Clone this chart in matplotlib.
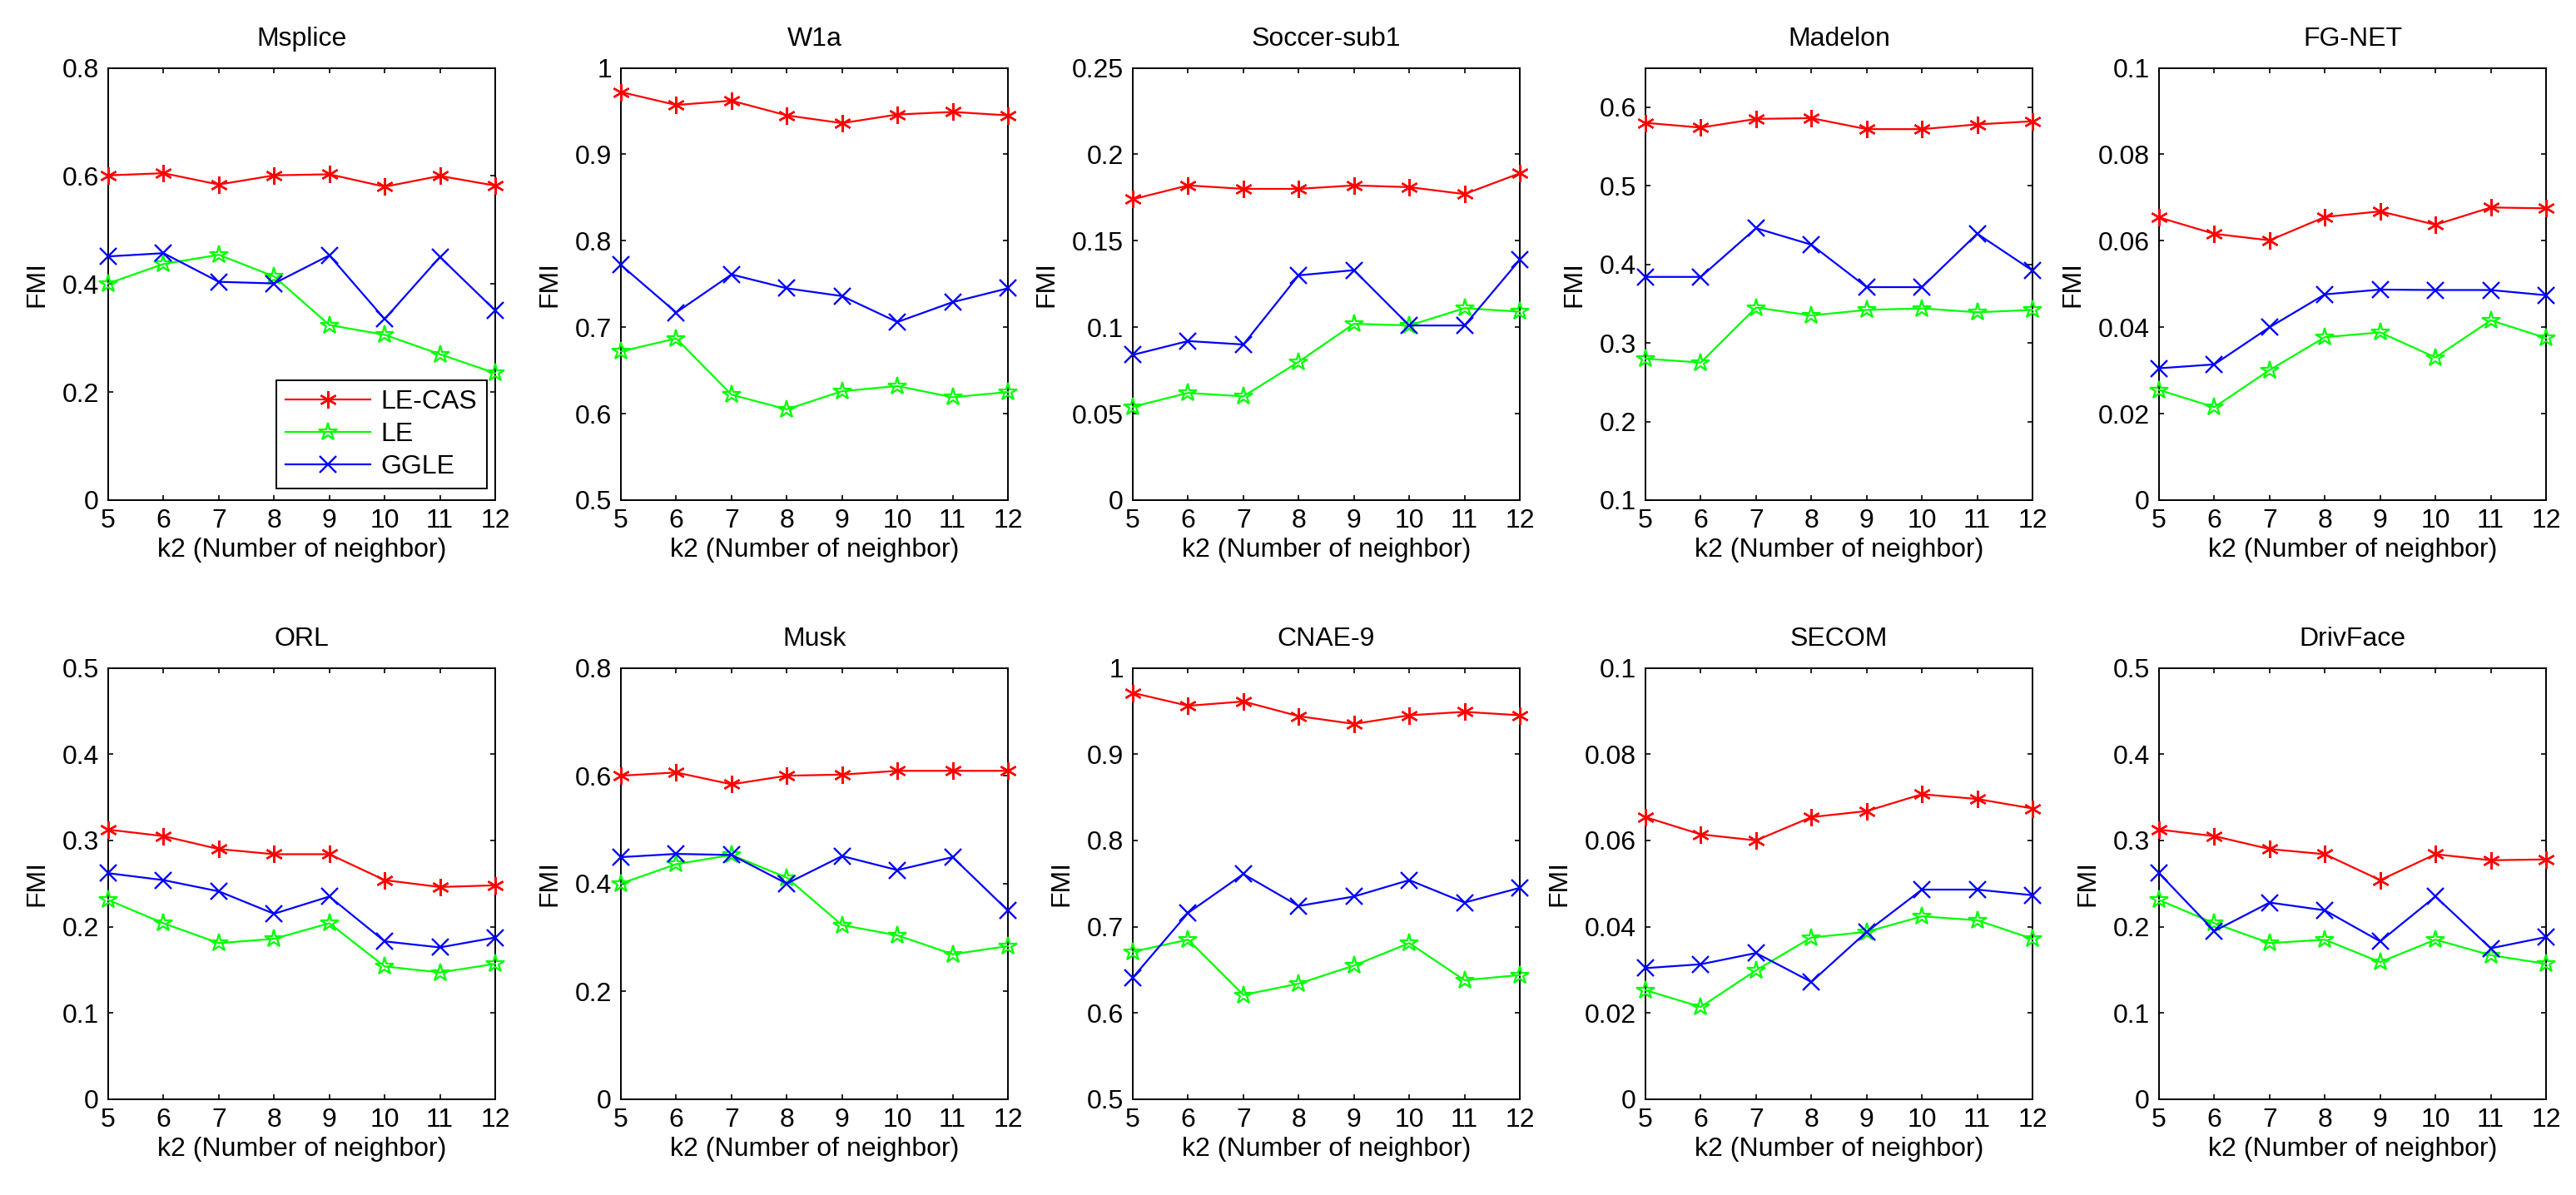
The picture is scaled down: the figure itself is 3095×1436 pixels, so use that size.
import matplotlib
matplotlib.use("Agg")
import matplotlib.pyplot as plt
from matplotlib.ticker import FuncFormatter

plt.rcParams['font.family'] = ['Liberation Sans', 'DejaVu Sans']

k2 = [5, 6, 7, 8, 9, 10, 11, 12]
series_names = ["LE-CAS", "LE", "GGLE"]
titles = ["Msplice", "W1a", "Soccer-sub1", "Madelon", "FG-NET",
          "ORL", "Musk", "CNAE-9", "SECOM", "DrivFace"]

# LE-CAS values per dataset
lecas_msplice = [0.601, 0.605, 0.584, 0.601, 0.603, 0.580, 0.600, 0.582]
lecas_w1a = [0.972, 0.957, 0.962, 0.945, 0.936, 0.946, 0.949, 0.945]
lecas_soccer = [0.174, 0.182, 0.180, 0.180, 0.182, 0.181, 0.177, 0.189]
lecas_madelon = [0.580, 0.574, 0.585, 0.586, 0.572, 0.572, 0.578, 0.582]
lecas_fgnet = [0.0654, 0.0616, 0.0601, 0.0655, 0.0668, 0.0637, 0.0677, 0.0675]
lecas_orl = [0.3125, 0.305, 0.290, 0.284, 0.284, 0.254, 0.246, 0.248]
lecas_musk = [0.600, 0.606, 0.584, 0.600, 0.602, 0.609, 0.609, 0.609]
lecas_cnae = [0.971, 0.956, 0.961, 0.944, 0.935, 0.945, 0.949, 0.945]
lecas_secom = [0.0654, 0.0614, 0.0600, 0.0654, 0.0668, 0.0707, 0.0696, 0.0674]
lecas_drivface = [0.3125, 0.305, 0.290, 0.284, 0.254, 0.284, 0.277, 0.278]

# LE values per dataset
le_msplice = [0.401, 0.437, 0.454, 0.414, 0.324, 0.306, 0.270, 0.235]
le_w1a = [0.672, 0.687, 0.622, 0.605, 0.626, 0.632, 0.619, 0.625]
le_soccer = [0.054, 0.062, 0.060, 0.080, 0.102, 0.101, 0.111, 0.109]
le_madelon = [0.280, 0.275, 0.345, 0.335, 0.342, 0.344, 0.339, 0.342]
le_fgnet = [0.0255, 0.0215, 0.0301, 0.0377, 0.0388, 0.0330, 0.0416, 0.0375]
le_orl = [0.231, 0.204, 0.181, 0.186, 0.204, 0.154, 0.147, 0.157]
le_musk = [0.400, 0.436, 0.453, 0.411, 0.323, 0.304, 0.269, 0.284]
le_cnae = [0.671, 0.685, 0.621, 0.634, 0.655, 0.681, 0.638, 0.644]
le_secom = [0.0253, 0.0214, 0.0299, 0.0375, 0.0388, 0.0424, 0.0415, 0.0372]
le_drivface = [0.231, 0.204, 0.181, 0.185, 0.159, 0.185, 0.167, 0.157]

# GGLE values per dataset
ggle_msplice = [0.451, 0.457, 0.404, 0.401, 0.453, 0.335, 0.450, 0.351]
ggle_w1a = [0.772, 0.717, 0.761, 0.745, 0.736, 0.706, 0.729, 0.745]
ggle_soccer = [0.084, 0.092, 0.090, 0.130, 0.133, 0.101, 0.101, 0.139]
ggle_madelon = [0.384, 0.384, 0.446, 0.425, 0.371, 0.371, 0.439, 0.392]
ggle_fgnet = [0.0305, 0.0314, 0.0400, 0.0476, 0.0487, 0.0486, 0.0486, 0.0474]
ggle_orl = [0.262, 0.254, 0.241, 0.215, 0.235, 0.183, 0.176, 0.1875]
ggle_musk = [0.449, 0.455, 0.453, 0.400, 0.451, 0.425, 0.449, 0.350]
ggle_cnae = [0.641, 0.716, 0.761, 0.724, 0.735, 0.754, 0.728, 0.745]
ggle_secom = [0.0304, 0.0313, 0.0339, 0.0272, 0.0388, 0.0486, 0.0486, 0.0473]
ggle_drivface = [0.262, 0.195, 0.228, 0.219, 0.183, 0.235, 0.175, 0.188]

lecas_all = [lecas_msplice, lecas_w1a, lecas_soccer, lecas_madelon, lecas_fgnet,
             lecas_orl, lecas_musk, lecas_cnae, lecas_secom, lecas_drivface]
le_all = [le_msplice, le_w1a, le_soccer, le_madelon, le_fgnet,
          le_orl, le_musk, le_cnae, le_secom, le_drivface]
ggle_all = [ggle_msplice, ggle_w1a, ggle_soccer, ggle_madelon, ggle_fgnet,
            ggle_orl, ggle_musk, ggle_cnae, ggle_secom, ggle_drivface]

y_limits = [(0, 0.8), (0.5, 1.0), (0, 0.25), (0.1, 0.65), (0, 0.1),
            (0, 0.5), (0, 0.8), (0.5, 1.0), (0, 0.1), (0, 0.5)]
y_ticks = [[0, 0.2, 0.4, 0.6, 0.8],
           [0.5, 0.6, 0.7, 0.8, 0.9, 1.0],
           [0, 0.05, 0.1, 0.15, 0.2, 0.25],
           [0.1, 0.2, 0.3, 0.4, 0.5, 0.6],
           [0, 0.02, 0.04, 0.06, 0.08, 0.1],
           [0, 0.1, 0.2, 0.3, 0.4, 0.5],
           [0, 0.2, 0.4, 0.6, 0.8],
           [0.5, 0.6, 0.7, 0.8, 0.9, 1.0],
           [0, 0.02, 0.04, 0.06, 0.08, 0.1],
           [0, 0.1, 0.2, 0.3, 0.4, 0.5]]

W, H = 3095, 1436
fig = plt.figure(figsize=(W / 100, H / 100), dpi=100)

col_left = [130, 746, 1361, 1977, 2594]
ax_w = 465
rows = [(81.5, 601), (802.5, 1321)]

FS = 23
asterisk = (6, 2, 0)

for i in range(10):
    r, c = divmod(i, 5)
    top, bottom = rows[r]
    ax = fig.add_axes([col_left[c] / W, 1 - bottom / H, ax_w / W, (bottom - top) / H])
    l1, = ax.plot(k2, lecas_all[i], color=(1, 0, 0), lw=1.6, marker=asterisk,
                  ms=15, mew=1.7, label=series_names[0], clip_on=False, zorder=3)
    l2, = ax.plot(k2, le_all[i], color=(0, 1, 0), lw=1.6, marker='*', ms=16,
                  mfc='none', mew=1.6, label=series_names[1], clip_on=False, zorder=3)
    l3, = ax.plot(k2, ggle_all[i], color=(0, 0, 1), lw=1.6, marker='x', ms=15,
                  mew=1.7, label=series_names[2], clip_on=False, zorder=3)
    ax.set_xlim(5, 12)
    ax.set_ylim(*y_limits[i])
    ax.set_xticks(k2)
    ax.set_yticks(y_ticks[i])
    ax.yaxis.set_major_formatter(FuncFormatter(lambda v, p: ('%g' % round(v, 6))))
    ax.tick_params(direction='in', top=True, right=True, length=4.5, width=1.2,
                   labelsize=FS)
    ax.tick_params(axis='x', pad=7)
    ax.tick_params(axis='y', pad=8)
    for s in ax.spines.values():
        s.set_linewidth(1.4)
    ax.set_title(titles[i], fontsize=FS, pad=19)
    ax.set_xlabel("k2 (Number of neighbor)", fontsize=FS, labelpad=4)
    ax.set_ylabel("FMI", fontsize=FS, labelpad=11)
    if i == 0:
        leg = ax.legend(handles=[l1, l2, l3], loc='lower right',
                        bbox_to_anchor=(0.978, 0.026), borderaxespad=0,
                        fontsize=FS, handlelength=3.2, handletextpad=0.4,
                        labelspacing=0.28, borderpad=0.35, fancybox=False,
                        framealpha=1, edgecolor='black')
        leg.get_frame().set_linewidth(1.4)

fig.savefig("out.png", dpi=100, facecolor='white')
